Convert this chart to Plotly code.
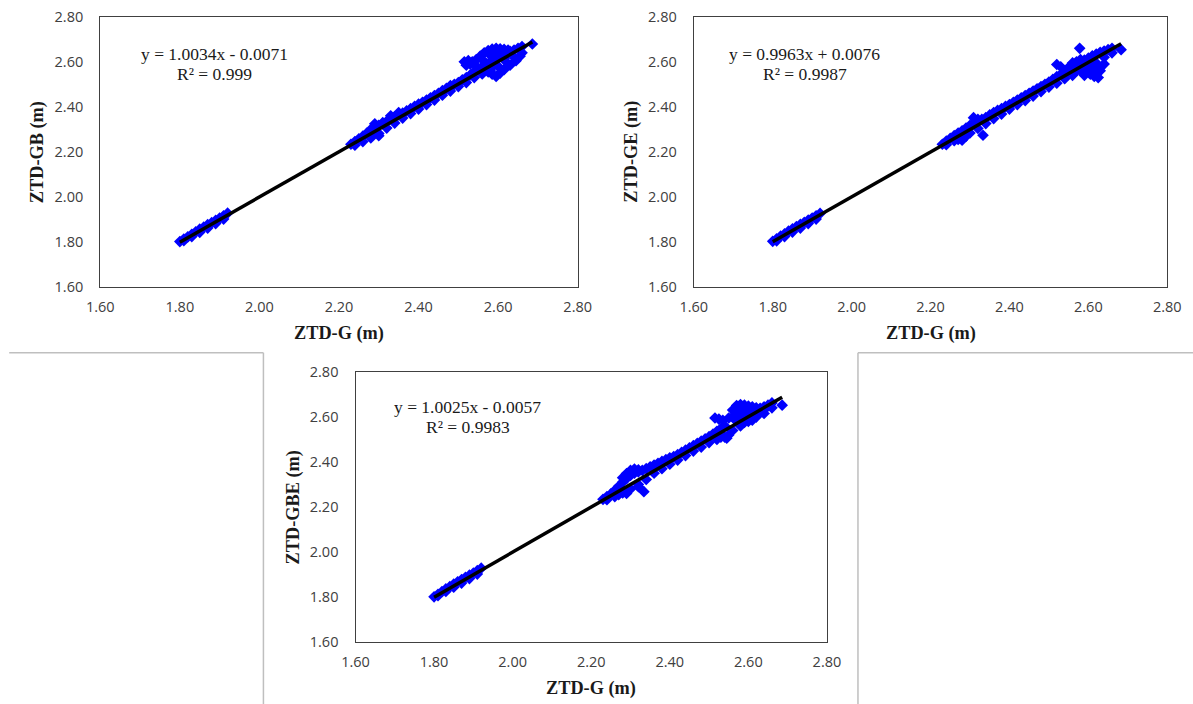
import numpy as np
import plotly.graph_objects as go

# Calibration of the photographed page: shown = A + S * page_px, page has 8 px body margin.
S = 0.976
AX, AY = 6.0, 0.4
OX, OY = 8, 8
FW, FH = 1212, 714          # figure size (css px)
TW, TH = 1193, 704          # target picture size

# ---------------- data ----------------
# ZTD-G (reference) values, shared by all three panels
ztd_g = [
    1.80, 1.81, 1.82, 1.83, 1.84, 1.85, 1.86, 1.87, 1.88, 1.89, 1.90, 1.91, 1.92,
    1.81, 1.83, 1.85, 1.87, 1.89, 1.91,
    2.23, 2.24, 2.25, 2.26, 2.27, 2.28, 2.29, 2.30, 2.31, 2.32, 2.33, 2.34, 2.35, 2.36, 2.37,
    2.38, 2.39, 2.40, 2.41, 2.42, 2.43, 2.44, 2.45, 2.46, 2.47, 2.48, 2.49, 2.50, 2.51, 2.52,
    2.53, 2.54, 2.55, 2.56, 2.57, 2.58, 2.59, 2.60, 2.61, 2.62, 2.63, 2.64, 2.65, 2.66,
    2.24, 2.26, 2.28, 2.30, 2.32, 2.34, 2.36, 2.38, 2.40, 2.42, 2.44, 2.46, 2.48, 2.50, 2.52,
    2.54, 2.56, 2.58, 2.60, 2.62, 2.64, 2.66,
]

ztd_gb = [
    1.802, 1.813, 1.823, 1.834, 1.845, 1.857, 1.866, 1.877, 1.886, 1.896, 1.906, 1.916, 1.928,
    1.806, 1.824, 1.843, 1.862, 1.882, 1.902,
    2.234, 2.246, 2.258, 2.270, 2.284, 2.300, 2.312, 2.318, 2.326, 2.336, 2.348, 2.356, 2.364, 2.372, 2.382,
    2.392, 2.402, 2.412, 2.420, 2.430, 2.440, 2.450, 2.460, 2.472, 2.482, 2.494, 2.500, 2.508, 2.520, 2.530,
    2.542, 2.556, 2.566, 2.578, 2.590, 2.600, 2.612, 2.622, 2.632, 2.640, 2.646, 2.652, 2.660, 2.668,
    2.230, 2.246, 2.262, 2.282, 2.306, 2.328, 2.350, 2.370, 2.390, 2.410, 2.430, 2.452, 2.470, 2.490, 2.508,
    2.530, 2.546, 2.560, 2.580, 2.600, 2.620, 2.640,
]

ztd_ge = [
    1.803, 1.814, 1.826, 1.836, 1.848, 1.858, 1.868, 1.878, 1.887, 1.897, 1.906, 1.916, 1.927,
    1.805, 1.824, 1.844, 1.862, 1.882, 1.902,
    2.234, 2.248, 2.260, 2.272, 2.284, 2.294, 2.306, 2.318, 2.328, 2.334, 2.344, 2.352, 2.364, 2.375, 2.384,
    2.392, 2.402, 2.410, 2.420, 2.430, 2.440, 2.450, 2.460, 2.470, 2.480, 2.490, 2.500, 2.510, 2.522, 2.534,
    2.544, 2.556, 2.566, 2.578, 2.590, 2.598, 2.608, 2.616, 2.626, 2.634, 2.642, 2.648, 2.654, 2.660,
    2.232, 2.250, 2.266, 2.284, 2.304, 2.326, 2.348, 2.368, 2.390, 2.410, 2.428, 2.448, 2.468, 2.488, 2.505,
    2.525, 2.540, 2.560, 2.575, 2.595, 2.620, 2.640,
]

ztd_gbe = [
    1.801, 1.812, 1.824, 1.836, 1.846, 1.857, 1.868, 1.878, 1.888, 1.897, 1.906, 1.917, 1.928,
    1.806, 1.825, 1.844, 1.862, 1.882, 1.902,
    2.234, 2.246, 2.258, 2.274, 2.292, 2.310, 2.326, 2.340, 2.350, 2.356, 2.362, 2.370, 2.378, 2.386, 2.394,
    2.402, 2.410, 2.418, 2.424, 2.432, 2.442, 2.452, 2.462, 2.472, 2.482, 2.492, 2.502, 2.512, 2.524, 2.536,
    2.548, 2.560, 2.595, 2.630, 2.650, 2.655, 2.652, 2.648, 2.645, 2.640, 2.638, 2.645, 2.652, 2.662,
    2.232, 2.246, 2.262, 2.280, 2.300, 2.322, 2.350, 2.370, 2.390, 2.408, 2.428, 2.448, 2.466, 2.486, 2.500,
    2.510, 2.540, 2.560, 2.580, 2.600, 2.615, 2.640,
]

# additional scattered points (clusters / outliers) per panel
gb_extra_x = [2.515, 2.525, 2.530, 2.520, 2.535, 2.545, 2.540, 2.555, 2.565, 2.575, 2.585, 2.595,
              2.605, 2.615, 2.625, 2.560, 2.580, 2.600, 2.620, 2.590, 2.585, 2.595, 2.605, 2.575,
              2.615, 2.630, 2.645, 2.655, 2.280, 2.300, 2.290, 2.310, 2.330, 2.350, 2.686]
gb_extra_y = [2.600, 2.605, 2.590, 2.585, 2.600, 2.610, 2.590, 2.625, 2.640, 2.650, 2.657, 2.660,
              2.658, 2.655, 2.652, 2.610, 2.630, 2.640, 2.625, 2.585, 2.545, 2.535, 2.550, 2.555,
              2.565, 2.585, 2.605, 2.625, 2.270, 2.272, 2.325, 2.330, 2.360, 2.375, 2.679]

ge_extra_x = [2.520, 2.530, 2.578, 2.683, 2.550, 2.560, 2.570, 2.580, 2.590, 2.600, 2.610, 2.595,
              2.605, 2.615, 2.625, 2.620, 2.630, 2.585, 2.570, 2.640, 2.565, 2.575, 2.600, 2.610,
              2.590, 2.615, 2.625, 2.550, 2.309, 2.333, 2.270, 2.280, 2.290, 2.320]
ge_extra_y = [2.588, 2.578, 2.660, 2.654, 2.575, 2.595, 2.600, 2.610, 2.600, 2.600, 2.595, 2.555,
              2.545, 2.535, 2.530, 2.555, 2.560, 2.565, 2.560, 2.590, 2.575, 2.585, 2.580, 2.560,
              2.540, 2.585, 2.575, 2.555, 2.352, 2.274, 2.255, 2.252, 2.270, 2.345]

gbe_extra_x = [2.515, 2.525, 2.535, 2.560, 2.570, 2.580, 2.590, 2.600, 2.610, 2.620, 2.630, 2.580,
               2.600, 2.620, 2.570, 2.590, 2.610, 2.640, 2.530, 2.545, 2.550, 2.300, 2.310, 2.290,
               2.280, 2.320, 2.334, 2.320, 2.280, 2.270, 2.290, 2.686]
gbe_extra_y = [2.595, 2.590, 2.585, 2.600, 2.620, 2.630, 2.620, 2.630, 2.620, 2.625, 2.620, 2.595,
               2.600, 2.600, 2.580, 2.575, 2.585, 2.630, 2.510, 2.505, 2.520, 2.362, 2.368, 2.348,
               2.330, 2.365, 2.268, 2.290, 2.270, 2.255, 2.260, 2.652]

slopes = [1.0034, 0.9963, 1.0025]
intercepts = [-0.0071, 0.0076, -0.0057]
r2_values = ["0.999", "0.9987", "0.9983"]
y_titles = ["ZTD-GB (m)", "ZTD-GE (m)", "ZTD-GBE (m)"]
x_title = "ZTD-G (m)"
tick_vals = [1.60, 1.80, 2.00, 2.20, 2.40, 2.60, 2.80]
tick_text = ["1.60", "1.80", "2.00", "2.20", "2.40", "2.60", "2.80"]

panels_y = [ztd_gb, ztd_ge, ztd_gbe]
extras = [(gb_extra_x, gb_extra_y), (ge_extra_x, ge_extra_y), (gbe_extra_x, gbe_extra_y)]

# ---------------- layout geometry (target picture pixels) ----------------
boxes = [  # x0, x1, ytop, ybottom
    (100, 577, 15, 286),
    (693, 1166, 15, 286),
    (355, 826, 371, 642),
]
eq_pos = [(214, 52, 72), (804, 52, 72), (467, 406, 426)]
xt_pos = [(338.5, 333), (929.5, 333), (590.5, 689)]
yt_pos = [(38, 150.5), (631, 150.5), (294, 506.5)]


def px(t):
    return ((t - AX) / S - OX) / FW


def py(t):
    return 1 - ((t - AY) / S - OY) / FH


fig = go.Figure()
annotations = []
layout_axes = {}

for i in range(3):
    sfx = "" if i == 0 else str(i + 1)
    xa, ya = "x" + sfx, "y" + sfx
    xs = list(ztd_g) + list(extras[i][0])
    ys = list(panels_y[i]) + list(extras[i][1])
    fig.add_trace(go.Scatter(
        x=xs, y=ys, mode="markers", xaxis=xa, yaxis=ya,
        marker=dict(symbol="diamond", size=9, color="#0000FF", line=dict(width=0)),
        showlegend=False, hoverinfo="skip",
    ))
    xmin, xmax = min(xs), max(xs)
    tx = np.array([xmin, xmax])
    ty = slopes[i] * tx + intercepts[i]
    fig.add_trace(go.Scatter(
        x=tx, y=ty, mode="lines", xaxis=xa, yaxis=ya,
        line=dict(color="black", width=3.5), showlegend=False, hoverinfo="skip",
    ))

    x0, x1, yt, yb = boxes[i]
    axis_common = dict(
        range=[1.6, 2.8], tickvals=tick_vals, ticktext=tick_text,
        showgrid=False, zeroline=False, showline=True, mirror=True,
        linecolor="#404040", linewidth=1.3, ticks="",
        tickfont=dict(family="Open Sans", size=14.5, color="#404040"),
        fixedrange=True,
    )
    layout_axes["xaxis" + sfx] = dict(axis_common, domain=[px(x0), px(x1)], anchor=ya,
                                      ticklabelstandoff=6)
    layout_axes["yaxis" + sfx] = dict(axis_common, domain=[py(yb), py(yt)], anchor=xa,
                                      ticklabelstandoff=13)

    sign = "-" if intercepts[i] < 0 else "+"
    eq_lines = [f"y = {slopes[i]:.4f}x {sign} {abs(intercepts[i]):.4f}", f"R² = {r2_values[i]}"]
    ex, ey1, ey2 = eq_pos[i]
    for txt, ey in zip(eq_lines, (ey1, ey2)):
        annotations.append(dict(
            text=txt, x=px(ex), y=py(ey), xref="paper", yref="paper",
            xanchor="center", yanchor="middle", align="center", showarrow=False,
            font=dict(family="Liberation Serif", size=17.5, color="#1a1a1a"),
        ))
    tx_, ty_ = xt_pos[i]
    annotations.append(dict(
        text=f"<b>{x_title}</b>", x=px(tx_), y=py(ty_), xref="paper", yref="paper",
        xanchor="center", yanchor="middle", showarrow=False,
        font=dict(family="Liberation Serif", size=18.3, color="#1a1a1a"),
    ))
    yx_, yy_ = yt_pos[i]
    annotations.append(dict(
        text=f"<b>{y_titles[i]}</b>", x=px(yx_), y=py(yy_), xref="paper", yref="paper",
        xanchor="center", yanchor="middle", showarrow=False, textangle=-90,
        font=dict(family="Liberation Serif", size=18.3, color="#1a1a1a"),
    ))

line_style = dict(color="#bfbfbf", width=1.5)
mid_y = py(352)
shapes = [
    dict(type="line", xref="paper", yref="paper", x0=px(9), x1=px(263), y0=mid_y, y1=mid_y, line=line_style),
    dict(type="line", xref="paper", yref="paper", x0=px(263), x1=px(263), y0=mid_y, y1=py(TH), line=line_style),
    dict(type="line", xref="paper", yref="paper", x0=px(857), x1=px(TW), y0=mid_y, y1=mid_y, line=line_style),
    dict(type="line", xref="paper", yref="paper", x0=px(857), x1=px(857), y0=mid_y, y1=py(TH), line=line_style),
]

fig.update_layout(
    width=FW, height=FH, margin=dict(l=0, r=0, t=0, b=0),
    paper_bgcolor="white", plot_bgcolor="white",
    annotations=annotations, shapes=shapes, showlegend=False,
    **layout_axes,
)

fig.write_html("out.html", config={"displayModeBar": False})
